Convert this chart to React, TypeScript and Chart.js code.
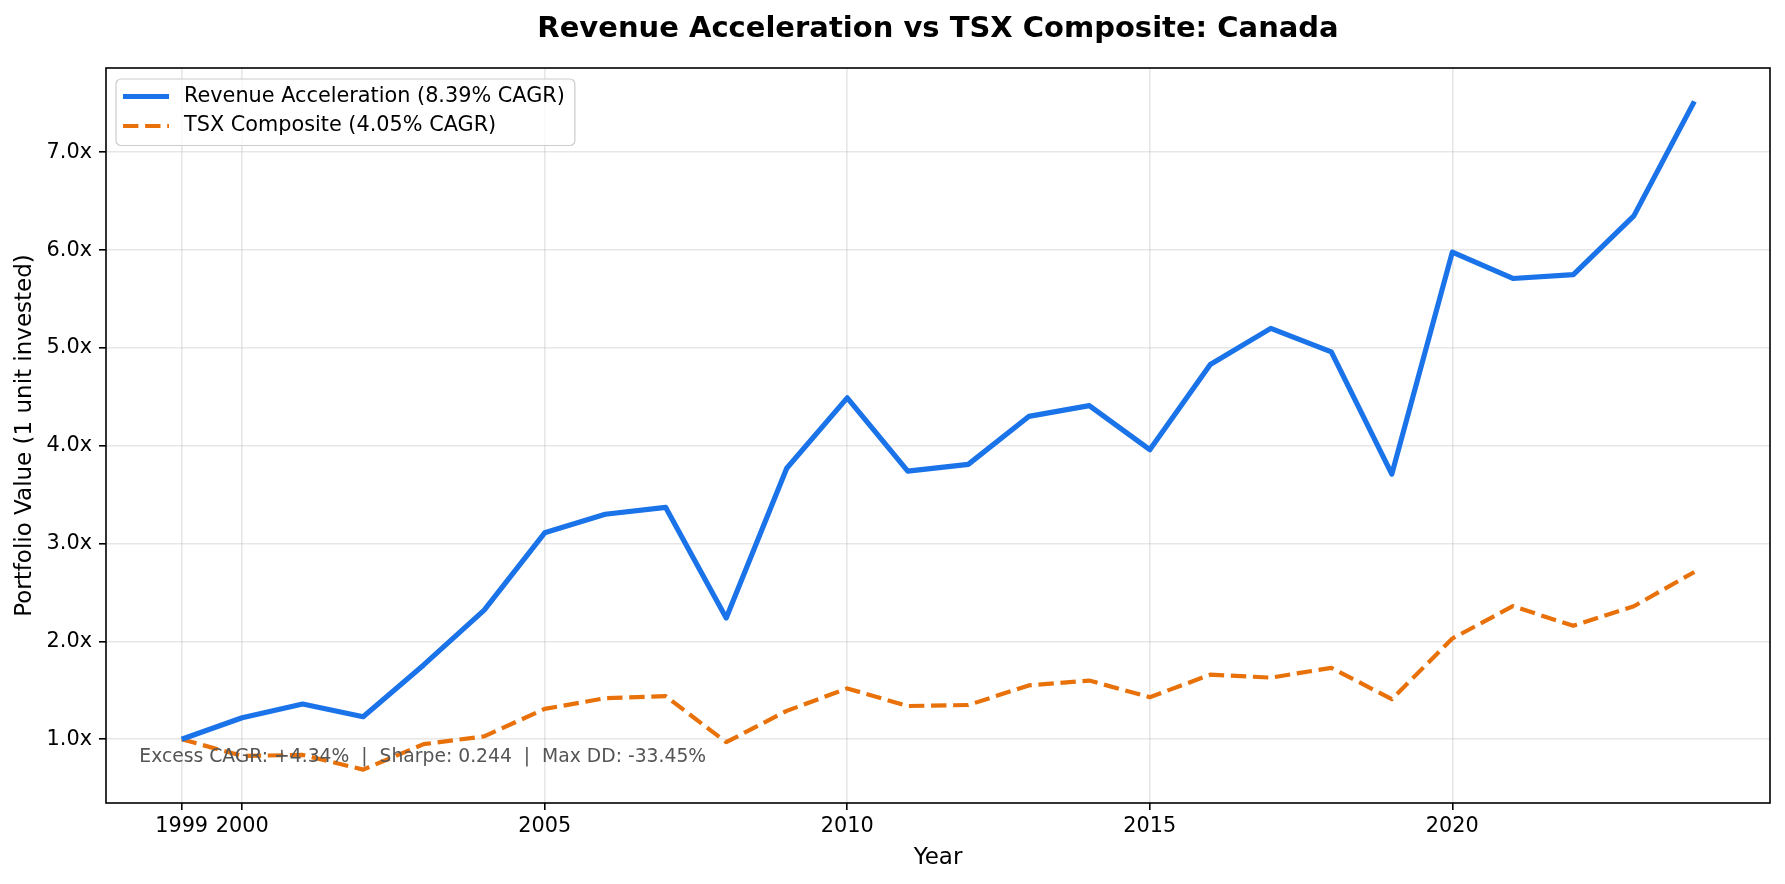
import React, { useEffect, useRef } from 'react';
import { Chart, registerables } from 'chart.js';

Chart.register(...registerables);

// data
const years = [
  1999, 2000, 2001, 2002, 2003, 2004, 2005, 2006, 2007, 2008, 2009, 2010, 2011,
  2012, 2013, 2014, 2015, 2016, 2017, 2018, 2019, 2020, 2021, 2022, 2023, 2024,
];
const revenueAcceleration = [
  1.0, 1.22, 1.36, 1.23, 1.76, 2.32, 3.11, 3.3, 3.37, 2.24, 3.77, 4.49, 3.74,
  3.81, 4.3, 4.41, 3.96, 4.83, 5.2, 4.96, 3.71, 5.98, 5.71, 5.75, 6.35, 7.52,
];
const tsxComposite = [
  1.0, 0.83, 0.84, 0.69, 0.95, 1.03, 1.31, 1.42, 1.44, 0.97, 1.29, 1.52, 1.34,
  1.35, 1.55, 1.6, 1.43, 1.66, 1.63, 1.73, 1.41, 2.03, 2.36, 2.16, 2.36, 2.71,
];
const xTicks = [1999, 2000, 2005, 2010, 2015, 2020];
const yTicks = [1, 2, 3, 4, 5, 6, 7];
const seriesLabels = ['Revenue Acceleration (8.39% CAGR)', 'TSX Composite (4.05% CAGR)'];
const seriesColors = ['#1a73e8', '#e8710a'];
const chartTitle = 'Revenue Acceleration vs TSX Composite: Canada';
const statsText = 'Excess CAGR: +4.34%  |  Sharpe: 0.244  |  Max DD: -33.45%';

const FONT = '"DejaVu Sans", sans-serif';
const W = 1785;
const H = 884;

// matplotlib-style 5% margins
const allValues = [...revenueAcceleration, ...tsxComposite];
const yLo = Math.min(...allValues);
const yHi = Math.max(...allValues);
const yPad = (yHi - yLo) * 0.05;
const xPad = (years[years.length - 1] - years[0]) * 0.05;

const overlay = {
  id: 'overlay',
  afterDatasetsDraw(chart: any) {
    const { ctx, chartArea: a } = chart;
    const w = a.right - a.left;
    const h = a.bottom - a.top;
    ctx.save();

    // stats annotation
    ctx.font = `18.75px ${FONT}`;
    ctx.fillStyle = '#555555';
    ctx.textAlign = 'left';
    ctx.textBaseline = 'middle';
    ctx.fillText(statsText, a.left + 0.02 * w, a.bottom - 0.062 * h);

    // axes frame
    ctx.strokeStyle = '#000';
    ctx.lineWidth = 1.6;
    ctx.strokeRect(a.left, a.top, w, h);

    // legend
    ctx.font = `20.8px ${FONT}`;
    const textX = a.left + 78;
    const maxW = Math.max(...seriesLabels.map((s) => ctx.measureText(s).width));
    const bx = a.left + 10;
    const by = a.top + 11;
    const bw = textX + maxW + 10 - bx;
    const bh = 66.5;
    ctx.beginPath();
    ctx.roundRect(bx, by, bw, bh, 5);
    ctx.fillStyle = 'rgba(255,255,255,0.8)';
    ctx.fill();
    ctx.strokeStyle = '#cccccc';
    ctx.lineWidth = 1.2;
    ctx.stroke();
    const rows = [by + 17.5, by + 47];
    seriesLabels.forEach((label, i) => {
      ctx.beginPath();
      ctx.strokeStyle = seriesColors[i];
      ctx.lineWidth = i === 0 ? 5.2 : 4.2;
      ctx.setLineDash(i === 0 ? [] : [15.4, 6.7]);
      ctx.moveTo(a.left + 17, rows[i]);
      ctx.lineTo(a.left + 63, rows[i]);
      ctx.stroke();
      ctx.setLineDash([]);
      ctx.fillStyle = '#000';
      ctx.textBaseline = 'middle';
      ctx.fillText(label, textX, rows[i]);
    });

    // title
    ctx.font = `bold 29px ${FONT}`;
    ctx.textAlign = 'center';
    ctx.fillStyle = '#000';
    ctx.fillText(chartTitle, (a.left + a.right) / 2, 29);

    ctx.restore();
  },
};

const App = () => {
  const canvasRef = useRef<HTMLCanvasElement>(null);
  const chartRef = useRef<Chart | null>(null);

  useEffect(() => {
    if (!canvasRef.current) return;
    const ctx = canvasRef.current.getContext('2d');
    if (!ctx) return;

    if (chartRef.current) chartRef.current.destroy();

    chartRef.current = new Chart(ctx, {
      type: 'line',
      data: {
        datasets: [
          {
            label: seriesLabels[0],
            data: years.map((x, i) => ({ x, y: revenueAcceleration[i] })),
            borderColor: seriesColors[0],
            borderWidth: 5.2,
            pointRadius: 0,
            borderJoinStyle: 'round',
            tension: 0,
          },
          {
            label: seriesLabels[1],
            data: years.map((x, i) => ({ x, y: tsxComposite[i] })),
            borderColor: seriesColors[1],
            borderWidth: 4.2,
            borderDash: [15.4, 6.7],
            pointRadius: 0,
            borderJoinStyle: 'round',
            tension: 0,
          },
        ],
      },
      options: {
        responsive: false,
        animation: false,
        devicePixelRatio: 1,
        layout: { padding: { top: 68, right: 15, bottom: 0, left: 0 } },
        plugins: {
          legend: { display: false },
          title: { display: false },
          tooltip: { enabled: false },
        },
        scales: {
          x: {
            type: 'linear',
            min: years[0] - xPad,
            max: years[years.length - 1] + xPad,
            afterBuildTicks: (scale: any) => {
              scale.ticks = xTicks.map((v) => ({ value: v }));
            },
            afterFit: (scale: any) => {
              scale.height = 81;
            },
            ticks: {
              autoSkip: false,
              maxRotation: 0,
              padding: 4,
              color: '#000',
              font: { family: FONT, size: 20.8 },
              callback: (v: any) => String(v),
            },
            grid: {
              color: 'rgba(176,176,176,0.3)',
              lineWidth: 1.6,
              tickColor: '#000',
              tickLength: 7,
              tickWidth: 1.6,
            },
            border: { display: false },
            title: {
              display: true,
              text: 'Year',
              color: '#000',
              font: { family: FONT, size: 23 },
              padding: { top: 0, bottom: 12 },
            },
          },
          y: {
            type: 'linear',
            min: yLo - yPad,
            max: yHi + yPad,
            afterBuildTicks: (scale: any) => {
              scale.ticks = yTicks.map((v) => ({ value: v }));
            },
            afterFit: (scale: any) => {
              scale.width = 106;
            },
            ticks: {
              padding: 7,
              color: '#000',
              font: { family: FONT, size: 20.8 },
              callback: (v: any) => `${Number(v).toFixed(1)}x`,
            },
            grid: {
              color: 'rgba(176,176,176,0.3)',
              lineWidth: 1.6,
              tickColor: '#000',
              tickLength: 7,
              tickWidth: 1.6,
            },
            border: { display: false },
            title: {
              display: true,
              text: 'Portfolio Value (1 unit invested)',
              color: '#000',
              font: { family: FONT, size: 23 },
              padding: { top: 11, bottom: 0 },
            },
          },
        },
      },
      plugins: [overlay],
    });

    return () => {
      if (chartRef.current) {
        chartRef.current.destroy();
        chartRef.current = null;
      }
    };
  }, []);

  return (
    <div style={{ position: 'absolute', left: 0, top: 0, width: W, height: H, background: '#fff' }}>
      <canvas ref={canvasRef} width={W} height={H} style={{ display: 'block' }} />
    </div>
  );
};

export default App;
